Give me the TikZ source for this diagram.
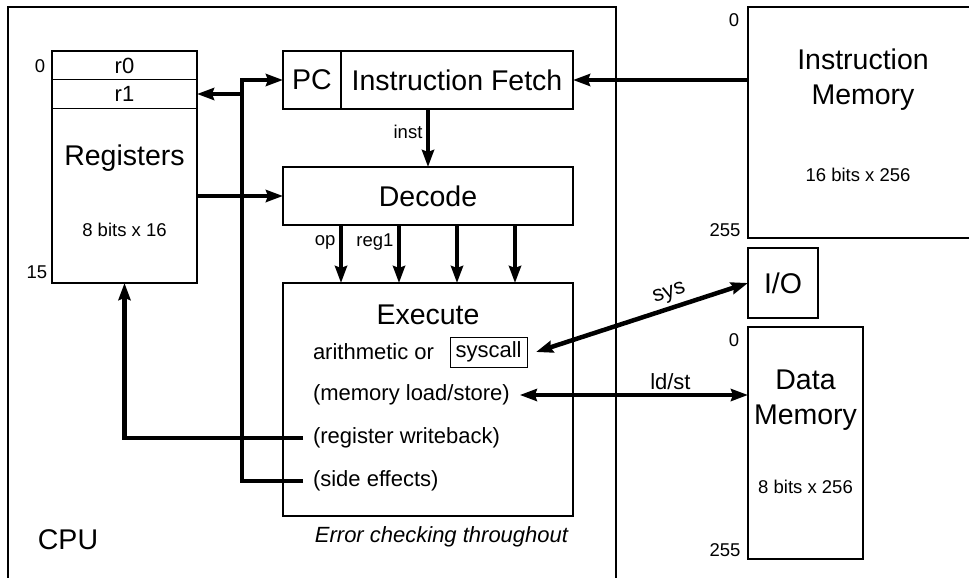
\documentclass[tikz,border=0pt]{standalone}
\usepackage{fontspec}
\setmainfont{Liberation Sans}
\usetikzlibrary{arrows.meta,positioning,calc}

\begin{document}
\begin{tikzpicture}[x=1pt,y=-1pt,
  box/.style={draw, line width=1.3pt, inner sep=0pt, outer sep=0pt},
  bigtext/.style={font=\fontsize{28.5}{35}\selectfont},
  midtext/.style={font=\fontsize{22}{26}\selectfont},
  smalltext/.style={font=\fontsize{18.5}{22}\selectfont},
  wire/.style={line width=4.5pt},
  arr/.style={wire, -{Stealth[length=17pt,width=12pt,inset=2pt]}},
  arrs/.style={wire, {Stealth[length=17pt,width=12pt,inset=2pt]}-{Stealth[length=17pt,width=12pt,inset=2pt]}},
  item/.style={midtext, anchor=west, inner sep=0pt, outer xsep=10pt}]
\clip (0,0) rectangle (969,578);

% CPU
\node[box, minimum width=608pt, minimum height=600pt] (cpu) at (312,307) {};
\node[bigtext] (cpulabel) at (68,540) {CPU};

% Registers
\node[box, minimum width=145pt, minimum height=232pt] (regs) at (124.5,167) {};
\node[box, midtext, minimum width=145pt, minimum height=28.5pt] (r0) at (124.5,65.5) {r0};
\node[box, midtext, minimum width=145pt, minimum height=28.5pt, below=0pt of r0] (r1) {r1};
\node[bigtext] (regname) at (124.5,158) {Registers};
\node[smalltext] (regsize) at (124.5,230) {8 bits x 16};
\node[smalltext] (reg0) at (40,66) {0};
\node[smalltext] (reg15) at (37,272) {15};

% Fetch and decode
\node[box, bigtext, minimum width=58pt, minimum height=58pt] (pc) at (312,80) {PC};
\node[box, bigtext, minimum width=232pt, minimum height=58pt, right=0pt of pc] (fetch) {Instruction Fetch};
\node[box, bigtext, minimum width=290pt, minimum height=58pt] (decode) at (428,196) {Decode};

% Execute
\node[box, minimum width=290pt, minimum height=233pt] (exec) at (428,399.5) {};
\node[bigtext] (exectitle) at (428,315) {Execute};
\node[item] (arith) at (303,352) {arithmetic or};
\node[box, midtext, line width=1pt, minimum width=77pt, minimum height=30pt, right=6pt of arith] (syscall) {syscall};
\node[item] (ldst) at (303,395) {(memory load/store)};
\node[item] (wb) at (303,438) {(register writeback)};
\node[item] (side) at (303,481) {(side effects)};
\node[font=\fontsize{22}{26}\selectfont\itshape] (err) at (441.5,537) {Error checking throughout};

% Memories
\node[box, minimum width=242pt, minimum height=231pt] (imem) at (869,122.5) {};
\node[bigtext, align=center] (imemname) at (863,80) {Instruction\\Memory};
\node[smalltext] (imemsize) at (858,175) {16 bits x 256};
\node[smalltext] (imem0) at (734,20) {0};
\node[smalltext] (imem255) at (725,230) {255};

\node[box, bigtext, minimum size=70pt] (io) at (783,283) {I/O};

\node[box, minimum width=115pt, minimum height=232pt] (dmem) at (805.5,443) {};
\node[bigtext, align=center] (dmemname) at (805.5,400) {Data\\Memory};
\node[smalltext] (dmemsize) at (805.5,487) {8 bits x 256};
\node[smalltext] (dmem0) at (734,340) {0};
\node[smalltext] (dmem255) at (725,550) {255};

% Arrows
\coordinate (bus) at (242,480);
\draw[arr] (imem.west |- fetch.east) -- (fetch.east);
\draw[arr] (decode.north |- fetch.south) -- node[smalltext, left, pos=0.4] (inst) {inst} (decode.north);
\foreach \f/\lbl in {0.2/op, 0.4/reg1, 0.6/, 0.8/}
  \draw[arr] ($(decode.south west)!\f!(decode.south east)$) -- node[smalltext, left, pos=0.3] {\lbl} ($(exec.north west)!\f!(exec.north east)$);
\draw[arr] (side.west) -| (bus |- pc.west) -- (pc.west);
\draw[arr] (bus |- r1.east) -- (r1.east);
\draw[arr] (regs.east |- decode.west) -- (decode.west);
\draw[arr] (wb.west) -| (regs.south);
\draw[arrs] ([xshift=9pt]syscall.east) -- node[midtext, above, sloped, pos=0.65] (sys) {sys} (io.west);
\draw[arrs] (ldst.east) -- node[midtext, above, pos=0.66] (ldstlabel) {ld/st} (ldst.east -| dmem.west);
\end{tikzpicture}
\end{document}
